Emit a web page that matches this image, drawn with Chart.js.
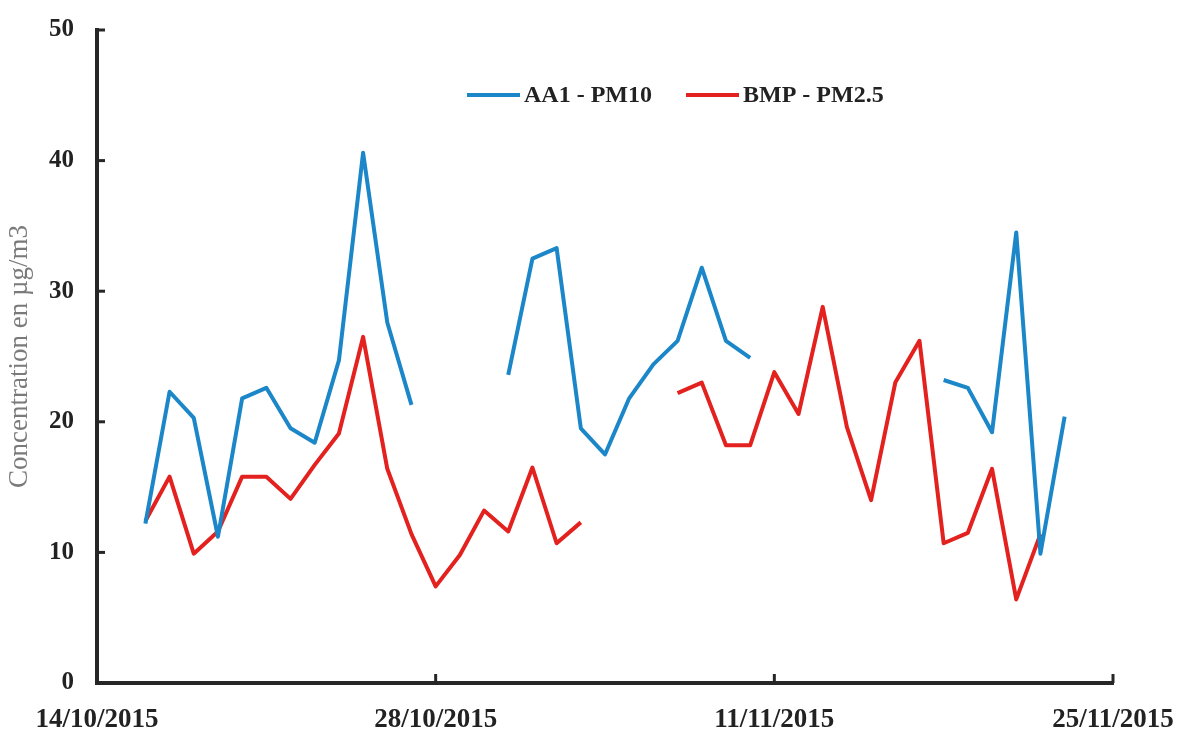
<!DOCTYPE html>
<html>
<head>
<meta charset="utf-8">
<script src="https://cdn.jsdelivr.net/npm/chart.js@4"></script>
<style>
  html, body { margin: 0; padding: 0; background: #fff; }
  #wrap { width: 1177px; height: 731px; }
</style>
</head>
<body>
<div id="wrap"><canvas id="concChart" width="1177" height="731"></canvas></div>
<script>
// daily dates, 14/10/2015 .. 25/11/2015
const dates = [
    '14/10/2015', '15/10/2015', '16/10/2015', '17/10/2015', '18/10/2015', '19/10/2015',
    '20/10/2015', '21/10/2015', '22/10/2015', '23/10/2015', '24/10/2015', '25/10/2015',
    '26/10/2015', '27/10/2015', '28/10/2015', '29/10/2015', '30/10/2015', '31/10/2015',
    '01/11/2015', '02/11/2015', '03/11/2015', '04/11/2015', '05/11/2015', '06/11/2015',
    '07/11/2015', '08/11/2015', '09/11/2015', '10/11/2015', '11/11/2015', '12/11/2015',
    '13/11/2015', '14/11/2015', '15/11/2015', '16/11/2015', '17/11/2015', '18/11/2015',
    '19/11/2015', '20/11/2015', '21/11/2015', '22/11/2015', '23/11/2015', '24/11/2015',
    '25/11/2015'
];
const tickDates = ['14/10/2015', '28/10/2015', '11/11/2015', '25/11/2015'];
const yTicks = [0, 10, 20, 30, 40, 50];

const seriesNames = ['AA1 - PM10', 'BMP - PM2.5'];

// AA1 - PM10 (null = no measurement)
const pm10 = [
    null, null, 12.2, 22.3, 20.3, 11.2,
    21.8, 22.6, 19.5, 18.4, 24.7, 40.6,
    27.6, 21.3, null, null, null, 23.6,
    32.5, 33.3, 19.5, 17.5, 21.8, 24.4,
    26.2, 31.8, 26.2, 24.9, null, null,
    null, null, null, null, null, 23.2,
    22.6, 19.2, 34.5, 9.9, 20.4, null,
    null
];

// BMP - PM2.5
const pm25 = [
    null, null, 12.4, 15.8, 9.9, 11.6,
    15.8, 15.8, 14.1, 16.7, 19.1, 26.5,
    16.4, 11.4, 7.4, 9.8, 13.2, 11.6,
    16.5, 10.7, 12.3, null, null, null,
    22.2, 23.0, 18.2, 18.2, 23.8, 20.6,
    28.8, 19.6, 14.0, 23.0, 26.2, 10.7,
    11.5, 16.4, 6.4, 11.4, null, null,
    null
];

const axisColor = '#262626';
const serif = "'Liberation Serif', 'Times New Roman', serif";

// small inward tick marks, like the original plot
const innerTicks = {
    id: 'innerTicks',
    afterDraw(chart) {
        const ctx = chart.ctx;
        const area = chart.chartArea;
        const x = chart.scales.x;
        const y = chart.scales.y;
        ctx.save();
        ctx.strokeStyle = axisColor;
        ctx.lineWidth = 3;
        yTicks.forEach(v => {
            if (v === 0) return;
            const py = y.getPixelForValue(v);
            ctx.beginPath();
            ctx.moveTo(area.left, py);
            ctx.lineTo(area.left + 8, py);
            ctx.stroke();
        });
        tickDates.forEach(d => {
            const i = dates.indexOf(d);
            if (i === 0) return;
            const px = x.getPixelForValue(i);
            ctx.beginPath();
            ctx.moveTo(px, area.bottom);
            ctx.lineTo(px, area.bottom - 9);
            ctx.stroke();
        });
        ctx.restore();
    }
};

// legend drawn inside the plot area
const innerLegend = {
    id: 'innerLegend',
    afterDraw(chart) {
        const ctx = chart.ctx;
        const startX = [467, 686];
        const ly = 95;
        ctx.save();
        ctx.font = 'bold 24px ' + serif;
        ctx.textBaseline = 'middle';
        ctx.fillStyle = '#222';
        chart.data.datasets.forEach((ds, i) => {
            ctx.strokeStyle = ds.borderColor;
            ctx.lineWidth = 4;
            ctx.beginPath();
            ctx.moveTo(startX[i], ly);
            ctx.lineTo(startX[i] + 53, ly);
            ctx.stroke();
            ctx.fillText(ds.label, startX[i] + 57, ly + 1);
        });
        ctx.restore();
    }
};

new Chart(document.getElementById('concChart'), {
    type: 'line',
    data: {
        labels: dates,
        datasets: [{
            label: seriesNames[0],
            data: pm10,
            borderColor: '#1b87c9',
            borderWidth: 4,
            borderJoinStyle: 'round',
            pointRadius: 0,
            tension: 0,
            spanGaps: false
        }, {
            label: seriesNames[1],
            data: pm25,
            borderColor: '#e3211f',
            borderWidth: 4,
            borderJoinStyle: 'round',
            pointRadius: 0,
            tension: 0,
            spanGaps: false
        }]
    },
    options: {
        responsive: false,
        animation: false,
        layout: { padding: { left: 0, right: 64, top: 18, bottom: 0 } },
        plugins: {
            legend: { display: false },
            tooltip: { enabled: false }
        },
        scales: {
            x: {
                type: 'category',
                offset: false,
                grid: { display: false },
                border: { display: true, color: axisColor, width: 4 },
                ticks: {
                    autoSkip: false,
                    maxRotation: 0,
                    padding: 13,
                    color: '#222',
                    font: { family: serif, size: 27, weight: 'bold' },
                    callback: function(value) {
                        const d = dates[value];
                        return tickDates.includes(d) ? d : '';
                    }
                },
                afterFit(scale) {
                    scale.height = 48;
                    // let the end labels overhang, the plot keeps its width
                    scale.paddingLeft = 0;
                    scale.paddingRight = 0;
                }
            },
            y: {
                min: 0,
                max: 50,
                grid: { display: false },
                border: { display: true, color: axisColor, width: 4 },
                ticks: {
                    stepSize: 10,
                    padding: 15,
                    color: '#222',
                    font: { family: serif, size: 25, weight: 'bold' }
                },
                title: {
                    display: true,
                    text: 'Concentration en µg/m3',
                    color: '#7a7a7a',
                    padding: { top: 4, bottom: 0 },
                    font: { family: serif, size: 27 }
                },
                afterFit(scale) { scale.width = 97; }
            }
        }
    },
    plugins: [innerTicks, innerLegend]
});
</script>
</body>
</html>
